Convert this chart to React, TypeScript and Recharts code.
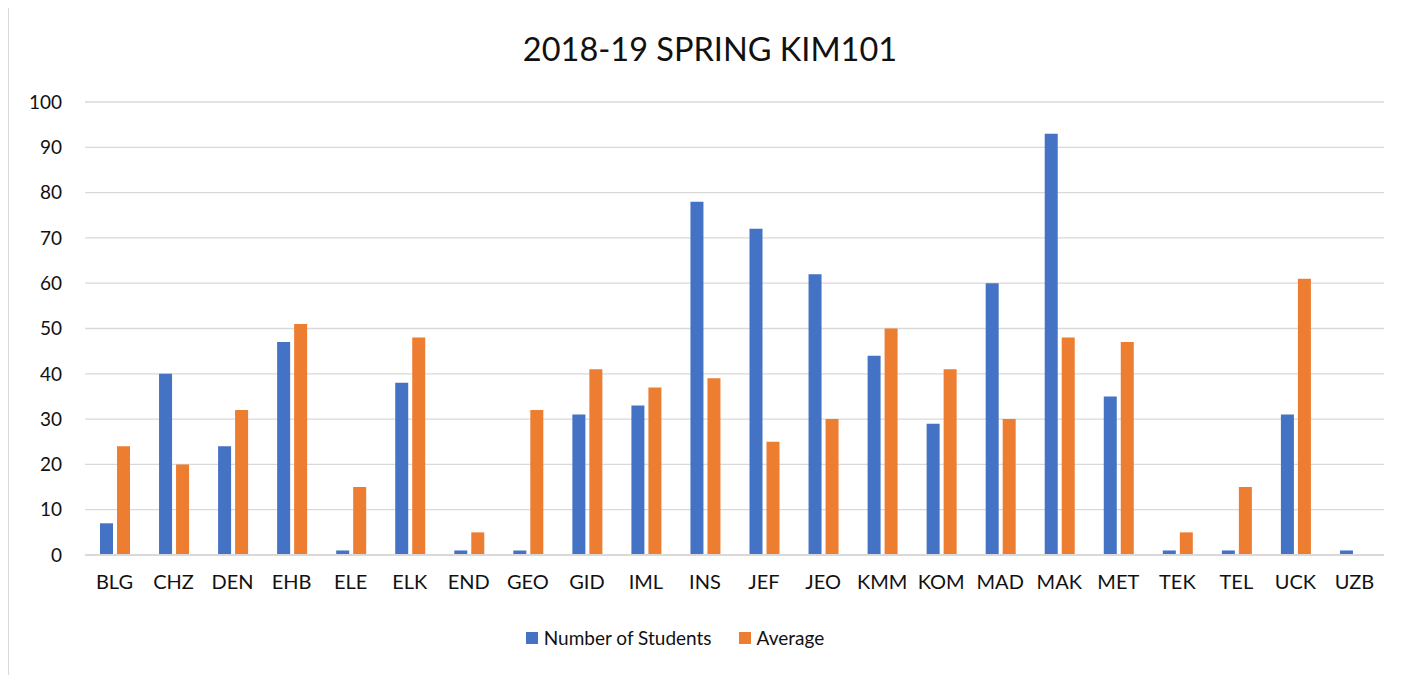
import React from 'react';
import { BarChart, Bar, XAxis, YAxis, CartesianGrid, Legend } from 'recharts';

const categories = ['BLG','CHZ','DEN','EHB','ELE','ELK','END','GEO','GID','IML','INS','JEF','JEO','KMM','KOM','MAD','MAK','MET','TEK','TEL','UCK','UZB'];
const students = [7,40,24,47,1,38,1,1,31,33,78,72,62,44,29,60,93,35,1,1,31,1];
const averages = [24,20,32,51,15,48,5,32,41,37,39,25,30,50,41,30,48,47,5,15,61,0];
const yTicks = [0,10,20,30,40,50,60,70,80,90,100];
const seriesOrder = ['students', 'average'];

const data = categories.map((c, i) => ({ name: c, students: students[i], average: averages[i] }));

const FONT = 'Lato, "Open Sans", sans-serif';

const renderLegend = (props: any) => {
  const payload = [...(props.payload || [])].sort(
    (a: any, b: any) => seriesOrder.indexOf(a.dataKey) - seriesOrder.indexOf(b.dataKey)
  );
  return (
    <div style={{ display: 'flex', justifyContent: 'center', alignItems: 'center', fontFamily: FONT, fontSize: 19, color: '#111' }}>
      {payload.map((p: any, i: number) => (
        <div key={i} style={{ display: 'flex', alignItems: 'center', marginRight: i === 0 ? 27 : 0 }}>
          <span style={{ width: 12, height: 12, background: p.color, display: 'inline-block', marginRight: 6 }} />
          <span>{p.value}</span>
        </div>
      ))}
    </div>
  );
};

export default function App() {
  return (
    <div style={{ position: 'relative', marginTop: -4, width: 1404, height: 680, border: '1px solid #d9d9d9', boxSizing: 'border-box', background: '#fff' }}>
      <div style={{ position: 'absolute', top: 24, left: 0, width: '100%', textAlign: 'center', fontFamily: FONT, fontSize: 32.5, color: '#111' }}>
        2018-19 SPRING KIM101
      </div>
      <BarChart
        width={1402}
        height={670}
        data={data}
        margin={{ top: 97, right: 27, bottom: 80, left: 0 }}
        barSize={13}
        barGap={4}
      >
        <CartesianGrid vertical={false} stroke="#d9d9d9" strokeWidth={1.3} />
        <XAxis
          dataKey="name"
          height={40}
          tickLine={false}
          axisLine={{ stroke: '#d9d9d9', strokeWidth: 2 }}
          tick={{ fontFamily: FONT, fontSize: 20, fill: '#111' }}
          tickMargin={14}
          interval={0}
        />
        <YAxis
          width={76}
          domain={[0, 100]}
          ticks={yTicks}
          tickLine={false}
          axisLine={false}
          tick={{ fontFamily: FONT, fontSize: 19, fill: '#111' }}
          tickMargin={17}
        />
        <Legend
          verticalAlign="middle"
          align="center"
          layout="horizontal"
          wrapperStyle={{ top: 621, left: -35, width: 1402 }}
          content={renderLegend}
        />
        <Bar dataKey="students" name="Number of Students" fill="#4472C4" isAnimationActive={false} />
        <Bar dataKey="average" name="Average" fill="#ED7D31" isAnimationActive={false} />
      </BarChart>
    </div>
  );
}
